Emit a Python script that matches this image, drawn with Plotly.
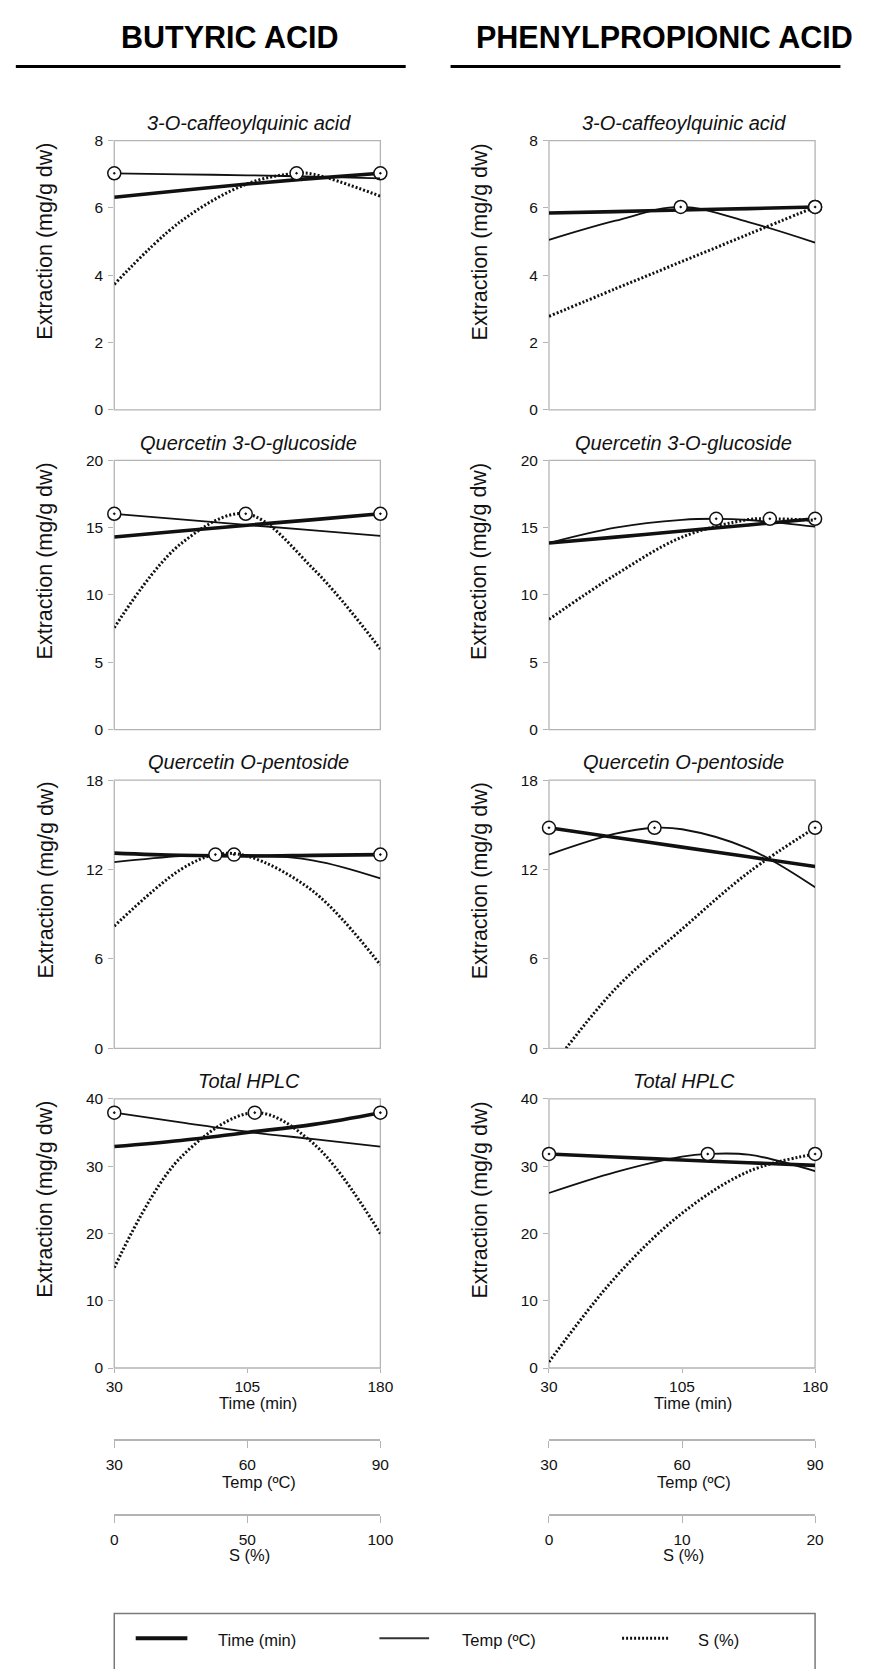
import plotly.graph_objects as go

W, H = 870, 1669

# ---------------- data ----------------
TIME_X = [30, 67.5, 105, 142.5, 180]
TEMP_X = [30, 45, 60, 75, 90]
S_X_BUT = [0, 25, 50, 75, 100]
S_X_PHE = [0, 5, 10, 15, 20]

TIME_TICKS = [30, 105, 180]
TEMP_TICKS = [30, 60, 90]
S_TICKS_BUT = [0, 50, 100]
S_TICKS_PHE = [0, 10, 20]

compounds = ["3-O-caffeoylquinic acid", "Quercetin 3-O-glucoside",
             "Quercetin O-pentoside", "Total HPLC"]
y_max = [8, 20, 18, 40]
y_dtick = [2, 5, 6, 10]

# Butyric acid column
but_cqa_time = [6.32, 6.52, 6.71, 6.88, 7.03]
but_cqa_temp = [7.03, 7.00, 6.97, 6.93, 6.88]
but_cqa_s = [3.73, 5.60, 6.72, 7.00, 6.35]
but_cqa_opt = [7.03, 180, 30, 68.5]          # value, time, temp, S

but_q3g_time = [14.31, 14.75, 15.18, 15.60, 16.03]
but_q3g_temp = [16.03, 15.62, 15.20, 14.80, 14.39]
but_q3g_s = [7.57, 13.8, 16.0, 11.9, 5.98]
but_q3g_opt = [16.03, 180, 30, 49.4]

but_qop_time = [13.10, 12.95, 12.90, 12.95, 13.00]
but_qop_temp = [12.50, 12.90, 13.00, 12.60, 11.40]
but_qop_s = [8.20, 12.00, 12.90, 10.50, 5.60]
but_qop_opt = [13.0, 180, 57, 38]

but_tot_time = [32.9, 33.8, 35.0, 36.2, 37.94]
but_tot_temp = [37.94, 36.5, 35.1, 34.0, 32.9]
but_tot_s = [14.9, 31.3, 37.8, 33.3, 19.95]
but_tot_opt = [37.94, 180, 30, 52.8]

# Phenylpropionic acid column
phe_cqa_time = [5.85, 5.89, 5.94, 5.98, 6.03]
phe_cqa_temp = [5.05, 5.62, 6.03, 5.58, 4.97]
phe_cqa_s = [2.78, 3.60, 4.41, 5.22, 6.03]
phe_cqa_opt = [6.03, 180, 59.7, 20]

phe_q3g_time = [13.86, 14.30, 14.75, 15.20, 15.66]
phe_q3g_temp = [13.86, 15.00, 15.58, 15.57, 15.07]
phe_q3g_s = [8.19, 11.5, 14.3, 15.6, 15.55]
phe_q3g_opt = [15.66, 180, 67.7, 16.6]

phe_qop_time = [14.8, 14.15, 13.5, 12.85, 12.2]
phe_qop_temp = [13.0, 14.4, 14.7, 13.4, 10.8]
phe_qop_s = [-1.5, 4.0, 8.0, 11.8, 14.8]
phe_qop_opt = [14.8, 30, 53.8, 20]

phe_tot_time = [31.8, 31.35, 30.9, 30.5, 30.1]
phe_tot_temp = [26.0, 29.1, 31.4, 31.7, 29.26]
phe_tot_s = [0.9, 13.5, 23.0, 29.2, 31.8]
phe_tot_opt = [31.8, 30, 65.8, 20]

columns = [
    {"title": "BUTYRIC ACID", "s_x": S_X_BUT, "s_ticks": S_TICKS_BUT,
     "rows": [(but_cqa_time, but_cqa_temp, but_cqa_s, but_cqa_opt),
              (but_q3g_time, but_q3g_temp, but_q3g_s, but_q3g_opt),
              (but_qop_time, but_qop_temp, but_qop_s, but_qop_opt),
              (but_tot_time, but_tot_temp, but_tot_s, but_tot_opt)]},
    {"title": "PHENYLPROPIONIC ACID", "s_x": S_X_PHE, "s_ticks": S_TICKS_PHE,
     "rows": [(phe_cqa_time, phe_cqa_temp, phe_cqa_s, phe_cqa_opt),
              (phe_q3g_time, phe_q3g_temp, phe_q3g_s, phe_q3g_opt),
              (phe_qop_time, phe_qop_temp, phe_qop_s, phe_qop_opt),
              (phe_tot_time, phe_tot_temp, phe_tot_s, phe_tot_opt)]},
]

# ---------------- layout geometry (pixels) ----------------
FONT = "Arial, Liberation Sans, Helvetica, sans-serif"
GREY = "#b4b4b4"
INK = "#111111"
COL_X = [(108, 381), (554, 827)]
ROW_Y = [(133, 405), (456, 728), (779, 1050), (1101, 1373)]
TEMP_LINE_Y = 1446
S_LINE_Y = 1522


def fx(p):
    return p / W


def fy(p):
    return 1 - p / H


def merged(xs, ys, ox, oy):
    span = xs[-1] - xs[0]
    pts = [(x, y) for x, y in zip(xs, ys) if abs(x - ox) > 0.06 * span]
    pts.append((ox, oy))
    pts.sort()
    return [p[0] for p in pts], [p[1] for p in pts]


fig = go.Figure()
layout = dict(
    width=W, height=H, margin=dict(l=0, r=0, t=0, b=0),
    paper_bgcolor="white", plot_bgcolor="rgba(0,0,0,0)",
    showlegend=False, font=dict(family=FONT, color=INK, size=16),
)
shapes = []
annotations = []

tick_common = dict(ticks="outside", tickcolor=GREY, tickwidth=1.2,
                   showgrid=False, zeroline=False,
                   tickfont=dict(family=FONT, size=15.5, color=INK))

for c, col in enumerate(columns):
    x0, x1 = COL_X[c]
    xt = "x" if c == 0 else "x2"
    xp = "x3" if c == 0 else "x4"
    xs_ = "x5" if c == 0 else "x6"
    ybottom = "y4" if c == 0 else "y8"
    dom = [fx(x0), fx(x1)]
    layout["xaxis" if c == 0 else "xaxis2"] = dict(
        domain=dom, range=[30, 180], anchor=ybottom, tickvals=TIME_TICKS,
        ticklen=4, showline=False, ticklabelstandoff=0, **tick_common)
    layout["xaxis" + xp[1:]] = dict(
        domain=dom, range=[30, 90], anchor="free", position=fy(TEMP_LINE_Y),
        tickvals=TEMP_TICKS, ticklen=7, showline=True, linecolor=GREY,
        linewidth=1.5, ticklabelstandoff=3, **tick_common)
    layout["xaxis" + xs_[1:]] = dict(
        domain=dom, range=[col["s_x"][0], col["s_x"][-1]], anchor="free",
        position=fy(S_LINE_Y), tickvals=col["s_ticks"], ticklen=7,
        showline=True, linecolor=GREY, linewidth=1.5, ticklabelstandoff=3,
        **tick_common)

    cx = (x0 + x1) / 2
    annotations.append(dict(text="<b>%s</b>" % col["title"], x=fx(cx - 18),
                            y=fy(28), xref="paper", yref="paper", showarrow=False,
                            xanchor="center", yanchor="middle",
                            font=dict(size=30.5, family=FONT, color="black")))
    shapes.append(dict(type="line", xref="paper", yref="paper",
                       x0=fx(7 if c == 0 else 453), x1=fx(407 if c == 0 else 853),
                       y0=fy(58), y1=fy(58), line=dict(color="black", width=3)))

    # bottom axes titles
    annotations.append(dict(text="Time (min)", x=fx(cx + 11), y=fy(1398), xref="paper",
                            yref="paper", showarrow=False, xanchor="center",
                            yanchor="top", borderpad=0, font=dict(size=16.5)))
    annotations.append(dict(text="Temp (ºC)", x=fx(cx + 12), y=fy(1488), xref="paper",
                            yref="paper", showarrow=False, xanchor="center",
                            yanchor="middle", font=dict(size=16.5)))
    annotations.append(dict(text="S (%)", x=fx(cx + 2), y=fy(1562), xref="paper",
                            yref="paper", showarrow=False, xanchor="center",
                            yanchor="middle", font=dict(size=16.5)))

    for r, (t_y, p_y, s_y, opt) in enumerate(col["rows"]):
        idx = c * 4 + r + 1
        yname = "y" if idx == 1 else "y%d" % idx
        ykey = "yaxis" if idx == 1 else "yaxis%d" % idx
        top, bot = ROW_Y[r]
        layout[ykey] = dict(domain=[fy(bot), fy(top)], range=[0, y_max[r]],
                            anchor=xt, tickvals=list(range(0, y_max[r] + 1, y_dtick[r])),
                            ticklen=5, showline=False, ticklabelstandoff=2, **tick_common)
        shapes.append(dict(type="rect", xref="paper", yref="paper",
                           x0=fx(x0), x1=fx(x1), y0=fy(bot), y1=fy(top),
                           line=dict(color=GREY, width=1.3), layer="below"))
        annotations.append(dict(text="<i>%s</i>" % compounds[r], x=fx(cx + 1.5),
                                y=fy(top - 18), xref="paper", yref="paper",
                                showarrow=False, xanchor="center", yanchor="middle",
                                font=dict(size=20)))
        annotations.append(dict(text="Extraction (mg/g dw)", textangle=-90,
                                x=fx(37 if c == 0 else 483), y=fy((top + bot) / 2 - 34),
                                xref="paper", yref="paper", showarrow=False,
                                xanchor="center", yanchor="middle",
                                font=dict(size=21.5)))

        val, o_time, o_temp, o_s = opt
        # Time (thick)
        xx, yy = merged(TIME_X, t_y, o_time, val)
        fig.add_trace(go.Scatter(x=xx, y=yy, xaxis=xt, yaxis=yname, mode="lines",
                                 line=dict(color=INK, width=3.6, shape="spline"),
                                 name="Time (min)", hoverinfo="skip"))
        # Temp (thin)
        xx, yy = merged(TEMP_X, p_y, o_temp, val)
        fig.add_trace(go.Scatter(x=xx, y=yy, xaxis=xp, yaxis=yname, mode="lines",
                                 line=dict(color=INK, width=1.8, shape="spline"),
                                 name="Temp (ºC)", hoverinfo="skip"))
        # S (dotted)
        xx, yy = merged(col["s_x"], s_y, o_s, val)
        fig.add_trace(go.Scatter(x=xx, y=yy, xaxis=xs_, yaxis=yname, mode="lines",
                                 line=dict(color=INK, width=3, dash="2px,2px",
                                           shape="spline"),
                                 name="S (%)", hoverinfo="skip"))
        # optimum markers
        for ax, ox in ((xp, o_temp), (xs_, o_s), (xt, o_time)):
            fig.add_trace(go.Scatter(
                x=[ox], y=[val], xaxis=ax, yaxis=yname, mode="markers",
                cliponaxis=False, hoverinfo="skip",
                marker=dict(symbol="circle-dot", size=13, color="white",
                            line=dict(color=INK, width=1.5))))

# ---------------- legend box ----------------
shapes.append(dict(type="rect", xref="paper", yref="paper", x0=fx(108), x1=fx(827),
                   y0=fy(1680), y1=fy(1621), line=dict(color="#7a7a7a", width=1.5)))
legend_items = [("Time (min)", 130, 183, 212, dict(color=INK, width=4)),
                ("Temp (ºC)", 380, 431, 463, dict(color="#333", width=2)),
                ("S (%)", 629, 678, 705, dict(color=INK, width=3, dash="2px,2px"))]
for label, lx0, lx1, tx, ln in legend_items:
    shapes.append(dict(type="line", xref="paper", yref="paper", x0=fx(lx0), x1=fx(lx1),
                       y0=fy(1646), y1=fy(1646), line=ln))
    annotations.append(dict(text=label, x=fx(tx), y=fy(1648), xref="paper", yref="paper",
                            showarrow=False, xanchor="left", yanchor="middle",
                            font=dict(size=16.5)))

layout["shapes"] = shapes
layout["annotations"] = annotations
fig.update_layout(**layout)
fig.write_html("out.html")
